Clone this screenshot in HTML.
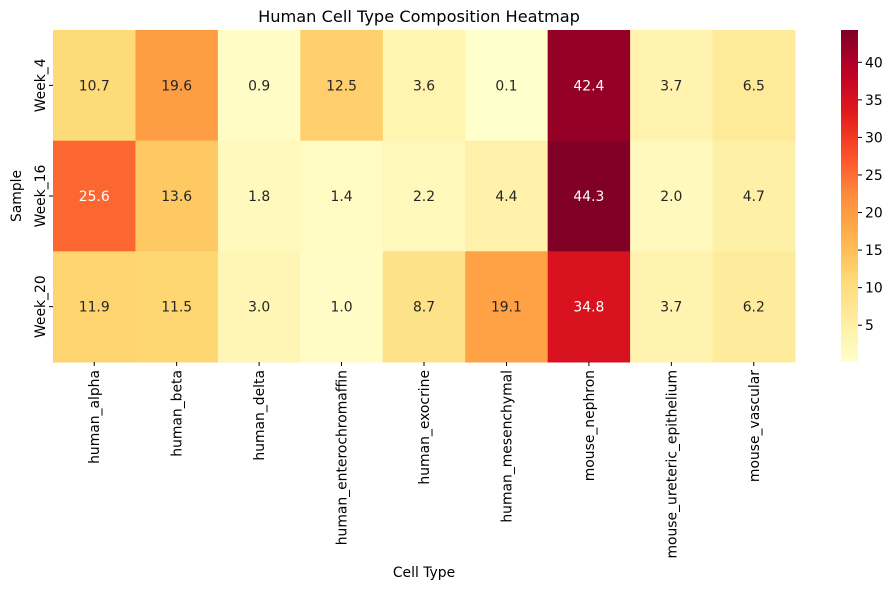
<!DOCTYPE html>
<html><head><meta charset="utf-8"><style>body{margin:0;background:#fff}svg{display:block;font-family:"DejaVu Sans","Liberation Sans",sans-serif}</style></head>
<body>
<svg id="c" width="895" height="590"></svg>
<script>
const columns=["human_alpha","human_beta","human_delta","human_enterochromaffin","human_exocrine","human_mesenchymal","mouse_nephron","mouse_ureteric_epithelium","mouse_vascular"];
const rows=["Week_4","Week_16","Week_20"];
const week4=[10.7,19.6,0.9,12.5,3.6,0.1,42.4,3.7,6.5];
const week16=[25.6,13.6,1.8,1.4,2.2,4.4,44.3,2.0,4.7];
const week20=[11.9,11.5,3.0,1.0,8.7,19.1,34.8,3.7,6.2];
const cbTicks=[5,10,15,20,25,30,35,40];
const values=[week4,week16,week20];
const NS="http://www.w3.org/2000/svg",svg=document.getElementById('c');
function mk(t,a,p){const e=document.createElementNS(NS,t);for(const k in a)e.setAttribute(k,a[k]);(p||svg).appendChild(e);return e;}
const X0=53,X1=795,Y0=30,Y1=362,FS=13.9;
const cw=(X1-X0)/columns.length,rh=(Y1-Y0)/rows.length;
const all=values.flat(),vmin=Math.min(...all),vmax=Math.max(...all);
const stops=["#ffffcc","#ffeda0","#fed976","#feb24c","#fd8d3c","#fc4e2a","#e31a1c","#bd0026","#800026"].map(h=>[1,3,5].map(i=>parseInt(h.substr(i,2),16)));
function cmap(v){let t=(v-vmin)/(vmax-vmin);t=Math.max(0,Math.min(1,t))*(stops.length-1);const i=Math.min(Math.floor(t),stops.length-2),f=t-i;return stops[i].map((c,k)=>Math.round(c+(stops[i+1][k]-c)*f));}
function lum(c){const l=c.map(x=>{x/=255;return x<=0.03928?x/12.92:Math.pow((x+0.055)/1.055,2.4)});return .2126*l[0]+.7152*l[1]+.0722*l[2];}
const xS=i=>X0+i*cw,yS=j=>Y0+j*rh;
rows.forEach((r,j)=>{columns.forEach((c,i)=>{
 const v=values[j][i],col=cmap(v);
 const rc=mk('rect',{x:xS(i),y:yS(j),width:cw+0.5,height:rh+0.5,fill:`rgb(${col})`});
 
 
 const t=mk('text',{x:xS(i)+cw/2,y:yS(j)+rh/2+5,'text-anchor':'middle','font-size':FS,fill:lum(col)>0.408?'#262626':'#ffffff'});
 t.textContent=v.toFixed(1);
 
 
});});
columns.forEach((c,i)=>{const x=xS(i)+cw/2;mk('line',{x1:x,x2:x,y1:Y1,y2:Y1+4,stroke:'#000'});
 const t=mk('text',{transform:`translate(${x+5},${Y1+8}) rotate(-90)`,'text-anchor':'end','font-size':FS,fill:'#000'});t.textContent=c;
 
 });
rows.forEach((r,j)=>{const y=yS(j)+rh/2;mk('line',{x1:X0-4,x2:X0,y1:y,y2:y,stroke:'#000'});
 const t=mk('text',{transform:`translate(${X0-8},${y}) rotate(-90)`,'text-anchor':'middle','font-size':FS,fill:'#000'});t.textContent=r;
 
 });
let t=mk('text',{x:419,y:22,'text-anchor':'middle','font-size':16.2,fill:'#000'});t.textContent='Human Cell Type Composition Heatmap';

t=mk('text',{x:424,y:577,'text-anchor':'middle','font-size':FS,fill:'#000'});t.textContent='Cell Type';

t=mk('text',{transform:'translate(21,196) rotate(-90)','text-anchor':'middle','font-size':FS,fill:'#000'});t.textContent='Sample';

const CX=841,CW=17,cy=v=>Y1-(v-vmin)/(vmax-vmin)*(Y1-Y0);
const defs=mk('defs',{}),g=mk('linearGradient',{id:'cg',x1:0,y1:1,x2:0,y2:0},defs);
for(let k=0;k<=20;k++){const v=vmin+(vmax-vmin)*k/20;mk('stop',{offset:k/20,'stop-color':`rgb(${cmap(v)})`},g);}
const cb=mk('rect',{x:CX,y:Y0,width:CW,height:Y1-Y0,fill:'url(#cg)'});

cbTicks.forEach(v=>{const y=cy(v);mk('line',{x1:CX+CW,x2:CX+CW+4,y1:y,y2:y,stroke:'#000'});
 const tt=mk('text',{x:CX+CW+7,y:y+5,'font-size':FS,fill:'#000'});tt.textContent=v;
 });
</script>
</body></html>
